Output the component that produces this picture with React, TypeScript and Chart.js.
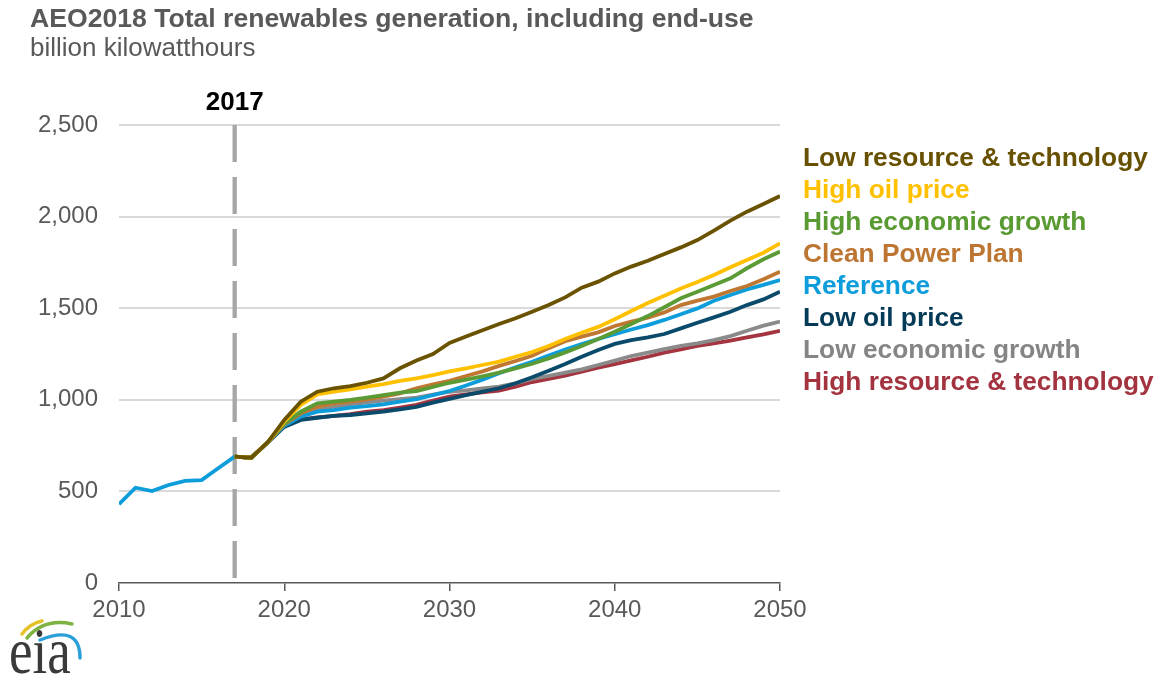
import React, { useEffect, useRef } from "react";
import { Chart, registerables } from "chart.js";
Chart.register(...registerables);

const titleText = "AEO2018 Total renewables generation, including end-use";
const subtitleText = "billion kilowatthours";
const markerYear = 2017;

const historyYears = [2010, 2011, 2012, 2013, 2014, 2015, 2016, 2017];
const historyValues = [430, 520, 502, 535, 557, 562, 626, 690];

const projectionYears = [
  2017, 2018, 2019, 2020, 2021, 2022, 2023, 2024, 2025, 2026, 2027, 2028, 2029,
  2030, 2031, 2032, 2033, 2034, 2035, 2036, 2037, 2038, 2039, 2040, 2041, 2042,
  2043, 2044, 2045, 2046, 2047, 2048, 2049, 2050,
];

const lowResourceTech = [690, 684, 768, 890, 990, 1044, 1063, 1075, 1093, 1117, 1172, 1215, 1250, 1310, 1345, 1380, 1414, 1445, 1481, 1517, 1559, 1612, 1645, 1690, 1727, 1759, 1796, 1832, 1872, 1923, 1978, 2027, 2069, 2112];
const highOilPrice = [690, 684, 768, 880, 972, 1030, 1044, 1057, 1072, 1086, 1103, 1117, 1135, 1155, 1172, 1190, 1208, 1235, 1261, 1294, 1332, 1366, 1398, 1440, 1485, 1528, 1568, 1608, 1643, 1681, 1723, 1763, 1803, 1854];
const highEconomicGrowth = [690, 684, 768, 870, 935, 981, 990, 999, 1012, 1026, 1039, 1048, 1070, 1093, 1110, 1128, 1148, 1172, 1197, 1226, 1259, 1294, 1332, 1372, 1414, 1457, 1505, 1554, 1590, 1627, 1663, 1718, 1767, 1809];
const cleanPowerPlan = [690, 684, 768, 865, 926, 962, 981, 990, 1003, 1017, 1035, 1063, 1085, 1104, 1130, 1155, 1185, 1212, 1240, 1282, 1320, 1345, 1368, 1403, 1427, 1448, 1477, 1517, 1541, 1563, 1594, 1621, 1658, 1699];
const reference = [690, 684, 768, 858, 908, 935, 944, 957, 966, 975, 990, 1003, 1025, 1048, 1078, 1110, 1145, 1178, 1208, 1242, 1274, 1304, 1332, 1358, 1384, 1408, 1436, 1467, 1499, 1541, 1572, 1603, 1627, 1654];
const lowOilPrice = [690, 684, 768, 852, 890, 902, 912, 917, 926, 935, 948, 962, 985, 1005, 1025, 1045, 1063, 1090, 1123, 1159, 1195, 1235, 1272, 1305, 1326, 1341, 1359, 1390, 1421, 1450, 1481, 1517, 1548, 1590];
const lowEconomicGrowth = [690, 684, 768, 862, 912, 944, 962, 975, 986, 995, 1003, 1012, 1028, 1044, 1052, 1062, 1072, 1090, 1114, 1130, 1148, 1166, 1190, 1214, 1239, 1257, 1277, 1294, 1308, 1326, 1348, 1377, 1405, 1427];
const highResourceTech = [690, 684, 768, 855, 893, 904, 912, 922, 935, 944, 957, 972, 995, 1017, 1030, 1040, 1050, 1072, 1097, 1114, 1132, 1154, 1175, 1195, 1215, 1235, 1257, 1275, 1294, 1308, 1323, 1341, 1357, 1376];

const seriesNames = [
  "Low resource & technology",
  "High oil price",
  "High economic growth",
  "Clean Power Plan",
  "Reference",
  "Low oil price",
  "Low economic growth",
  "High resource & technology",
];
const seriesValues = [
  lowResourceTech,
  highOilPrice,
  highEconomicGrowth,
  cleanPowerPlan,
  reference,
  lowOilPrice,
  lowEconomicGrowth,
  highResourceTech,
];
const seriesColors = [
  "#6a5300",
  "#ffc000",
  "#5b9b35",
  "#bf7731",
  "#0d9ddb",
  "#0a4a6a",
  "#8a8a8a",
  "#a4343f",
];
const legendColors = [
  "#675000",
  "#ffc000",
  "#5a9a32",
  "#bd7532",
  "#0d9ddb",
  "#033a56",
  "#858585",
  "#a3333f",
];
const historyColor = "#0d9ddb";

const yTicks = [0, 500, 1000, 1500, 2000, 2500];
const xTicks = [2010, 2020, 2030, 2040, 2050];

const FONT = "'Liberation Sans', Arial, sans-serif";

const overlayPlugin = {
  id: "overlay",
  beforeDatasetsDraw(chart: any) {
    const { ctx, chartArea, scales } = chart;
    const px = scales.x.getPixelForValue(markerYear);
    ctx.save();
    ctx.strokeStyle = "#a6a6a6";
    ctx.lineWidth = 4.3;
    ctx.setLineDash([37, 15]);
    ctx.beginPath();
    ctx.moveTo(px, chartArea.top);
    ctx.lineTo(px, chartArea.bottom);
    ctx.stroke();
    ctx.restore();
  },
  afterDraw(chart: any) {
    const { ctx, chartArea, scales } = chart;
    ctx.save();
    ctx.textBaseline = "alphabetic";
    ctx.textAlign = "left";
    ctx.fillStyle = "#595959";
    ctx.font = `bold 26.6px ${FONT}`;
    ctx.fillText(titleText, 30, 27);
    ctx.font = `26px ${FONT}`;
    ctx.fillText(subtitleText, 30, 56);

    const px = scales.x.getPixelForValue(markerYear);
    ctx.textAlign = "center";
    ctx.fillStyle = "#000000";
    ctx.font = `bold 26px ${FONT}`;
    ctx.fillText(String(markerYear), px, 110);

    ctx.textAlign = "left";
    ctx.font = `bold 26.3px ${FONT}`;
    const legendX = chartArea.right + 23;
    seriesNames.forEach((name, i) => {
      ctx.fillStyle = legendColors[i];
      ctx.fillText(name, legendX, 166 + i * 32);
    });

    // eia logo
    ctx.lineCap = "round";
    ctx.lineWidth = 3.5;
    ctx.strokeStyle = "#e6c229";
    ctx.beginPath();
    ctx.moveTo(22, 634);
    ctx.quadraticCurveTo(29, 624, 42, 621);
    ctx.stroke();
    ctx.strokeStyle = "#7db343";
    ctx.beginPath();
    ctx.moveTo(27, 638);
    ctx.quadraticCurveTo(44, 618, 72, 624);
    ctx.stroke();
    ctx.strokeStyle = "#2a9fd8";
    ctx.beginPath();
    ctx.moveTo(40, 640);
    ctx.quadraticCurveTo(80, 624, 80, 658);
    ctx.stroke();
    ctx.translate(9, 673);
    ctx.scale(1, 1.25);
    ctx.fillStyle = "#3a3a3a";
    ctx.font = `53px 'Liberation Serif', 'Times New Roman', serif`;
    ctx.textAlign = "left";
    ctx.fillText("eia", 0, 0);
    ctx.restore();
  },
};

export default function App() {
  const canvasRef = useRef<HTMLCanvasElement | null>(null);

  useEffect(() => {
    document.body.style.margin = "0";
    const canvas = canvasRef.current;
    if (!canvas) return;

    const datasets: any[] = seriesNames.map((name, i) => ({
      label: name,
      data: projectionYears.map((yr, j) => ({ x: yr, y: seriesValues[i][j] })),
      borderColor: seriesColors[i],
      backgroundColor: seriesColors[i],
      borderWidth: 3.8,
      pointRadius: 0,
      tension: 0,
      fill: false,
    }));
    datasets.push({
      label: "History",
      data: historyYears.map((yr, j) => ({ x: yr, y: historyValues[j] })),
      borderColor: historyColor,
      backgroundColor: historyColor,
      borderWidth: 3.8,
      pointRadius: 0,
      tension: 0,
      fill: false,
    });

    const chart = new Chart(canvas, {
      type: "line",
      data: { datasets },
      options: {
        responsive: false,
        animation: false,
        devicePixelRatio: 1,
        layout: { padding: { top: 125, right: 379, left: 0, bottom: 0 } },
        plugins: {
          legend: { display: false },
          tooltip: { enabled: false },
          title: { display: false },
        },
        scales: {
          x: {
            type: "linear",
            min: xTicks[0],
            max: xTicks[xTicks.length - 1],
            afterFit: (scale: any) => {
              scale.height = 94;
            },
            afterBuildTicks: (scale: any) => {
              scale.ticks = xTicks.map((v) => ({ value: v }));
            },
            ticks: {
              callback: (v: any) => String(v),
              color: "#595959",
              font: { family: FONT, size: 24 },
              padding: 5,
              maxRotation: 0,
              autoSkip: false,
            },
            grid: {
              display: true,
              drawOnChartArea: false,
              drawTicks: true,
              tickLength: 8,
              color: "#595959",
              lineWidth: 1.5,
            },
            border: { display: true, color: "#595959", width: 1.5 },
          },
          y: {
            type: "linear",
            min: yTicks[0],
            max: yTicks[yTicks.length - 1],
            afterFit: (scale: any) => {
              scale.width = 119;
            },
            afterBuildTicks: (scale: any) => {
              scale.ticks = yTicks.map((v) => ({ value: v }));
            },
            ticks: {
              callback: (v: any) => Number(v).toLocaleString("en-US"),
              color: "#595959",
              font: { family: FONT, size: 24 },
              padding: 21,
            },
            grid: {
              drawTicks: false,
              lineWidth: 2,
              color: (c: any) =>
                c.tick && c.tick.value === 0 ? "rgba(0,0,0,0)" : "#d9d9d9",
            },
            border: { display: false },
          },
        },
      },
      plugins: [overlayPlugin],
    });

    return () => {
      chart.destroy();
    };
  }, []);

  return (
    <div style={{ width: 1159, height: 677, overflow: "hidden" }}>
      <canvas ref={canvasRef} width={1159} height={677} style={{ display: "block" }} />
    </div>
  );
}
